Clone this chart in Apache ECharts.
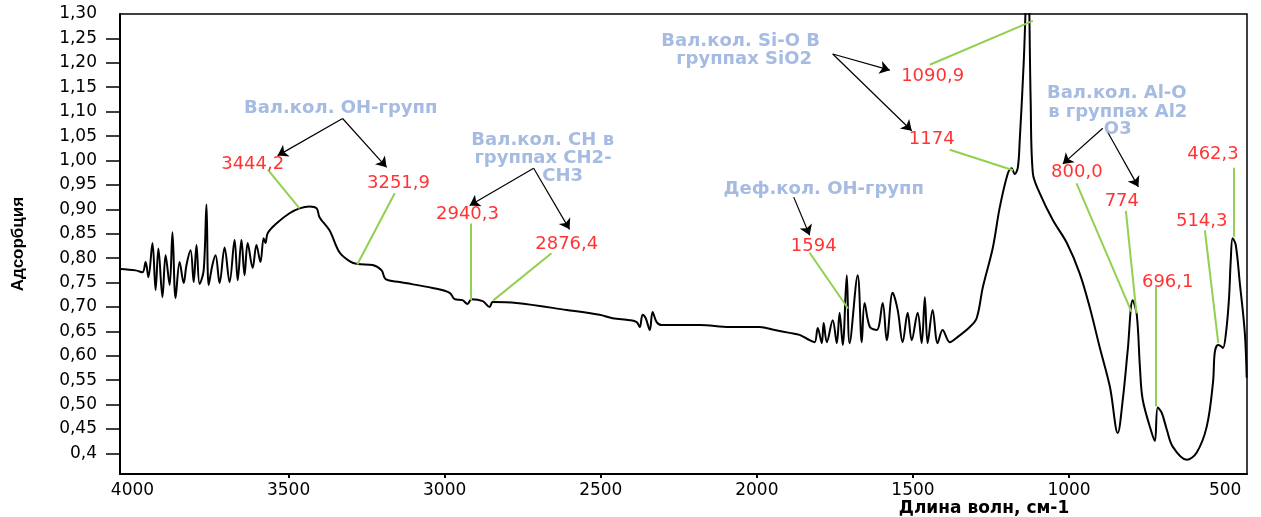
<!DOCTYPE html>
<html><head><meta charset="utf-8">
<script src="https://cdn.jsdelivr.net/npm/echarts@6/dist/echarts.min.js"></script>
<style>html,body{margin:0;padding:0;background:#fff}#c{width:1261px;height:517px}</style>
</head><body><div id="c"></div>
<script>
// ---- spectrum data (wavenumber, cm-1 / absorbance) ----
const wavenumbers = [4040,3990,3968,3958,3949,3936,3926,3917,3904,3894,3881,3872,3862,3849,3836,3827,3814,3804,3795,3785,3772,3763,3756,3744,3734,3721,3705,3689,3673,3663,3651,3641,3631,3615,3603,3590,3580,3574,3567,3539,3497,3465,3433,3410,3401,3369,3337,3305,3279,3231,3202,3189,3144,3039,2984,2968,2943,2927,2914,2878,2856,2846,2770,2609,2504,2462,2407,2385,2375,2366,2356,2343,2334,2321,2305,2183,2087,1991,1943,1895,1863,1831,1815,1805,1792,1786,1776,1757,1744,1735,1725,1712,1703,1677,1664,1655,1638,1616,1597,1584,1565,1549,1533,1517,1504,1485,1472,1462,1453,1437,1421,1405,1382,1360,1318,1296,1276,1244,1222,1196,1184,1174,1164,1158,1145,1132,1123,1116,1094,1052,1007,966,934,902,869,844,828,812,796,783,773,764,735,725,716,703,687,668,623,591,559,539,533,523,514,507,498,488,482,476,466,453,437,431];
const absorbance = [0.778,0.775,0.771,0.792,0.761,0.831,0.735,0.820,0.720,0.806,0.745,0.853,0.718,0.792,0.749,0.786,0.816,0.751,0.827,0.747,0.775,0.910,0.745,0.786,0.806,0.749,0.822,0.751,0.837,0.755,0.837,0.765,0.831,0.780,0.827,0.792,0.841,0.831,0.851,0.871,0.892,0.902,0.906,0.902,0.884,0.857,0.812,0.794,0.788,0.786,0.775,0.757,0.751,0.739,0.729,0.716,0.714,0.706,0.716,0.712,0.700,0.710,0.708,0.694,0.684,0.677,0.673,0.669,0.659,0.684,0.677,0.653,0.690,0.669,0.663,0.663,0.659,0.659,0.653,0.647,0.643,0.632,0.628,0.657,0.626,0.667,0.628,0.673,0.626,0.688,0.622,0.765,0.626,0.765,0.628,0.708,0.659,0.653,0.708,0.632,0.729,0.694,0.628,0.688,0.632,0.688,0.626,0.720,0.626,0.694,0.626,0.653,0.628,0.637,0.659,0.677,0.741,0.822,0.904,0.974,0.984,0.972,0.986,1.041,1.204,1.420,1.123,0.974,0.933,0.878,0.831,0.769,0.700,0.618,0.536,0.442,0.510,0.612,0.714,0.684,0.577,0.510,0.442,0.426,0.494,0.483,0.449,0.414,0.387,0.402,0.455,0.545,0.608,0.622,0.620,0.616,0.643,0.714,0.796,0.841,0.827,0.749,0.647,0.555];

// ---- axis ticks ----
const xLabelValues = [4000,3500,3000,2500,2000,1500,1000,500];
const xTickValues = [3500,3000,2500,2000,1500,1000];
const yLabelValues = [0.40,0.45,0.50,0.55,0.60,0.65,0.70,0.75,0.80,0.85,0.90,0.95,1.00,1.05,1.10,1.15,1.20,1.25,1.30];
const yTickValues = [0.40,0.45,0.50,0.55,0.60,0.65,0.70,0.75,0.80,0.85,0.90,0.95,1.00,1.05,1.10,1.15,1.20,1.25];
const xAxisName = 'Длина волн, см-1';
const yAxisName = 'Адсорбция';

// ---- annotations (anchored in data coordinates) ----
const groupTexts = ['Вал.кол. ОН-групп','Вал.кол. CH в','группах CH2-','CH3','Вал.кол. Si-O В','группах SiO2','Деф.кол. ОН-групп','Вал.кол. Al-O','в группах Al2','O3'];
const groupAt = [[3333,1.106],[2686,1.041],[2685,1.004],[2622,0.968],[2052,1.245],[2041,1.208],[1786,0.940],[847,1.138],[844,1.099],[844,1.063]];
const peakTexts = ['3444,2','3251,9','2940,3','2876,4','1090,9','1174','1594','800,0','774','696,1','514,3','462,3'];
const peakAt = [[3615,0.992],[3148,0.953],[2927,0.890],[2609,0.829],[1437,1.172],[1440,1.043],[1818,0.825],[975,0.976],[831,0.916],[684,0.751],[575,0.876],[539,1.012]];
const leaderLines = [
  [[3566,0.981],[3465,0.902]],
  [[3160,0.933],[3280,0.787]],
  [[2915,0.871],[2915,0.714]],
  [[2658,0.810],[2845,0.713]],
  [[1446,1.196],[1116,1.286]],
  [[1382,1.022],[1179,0.980]],
  [[1831,0.811],[1708,0.697]],
  [[976,0.953],[800,0.690]],
  [[818,0.897],[784,0.687]],
  [[722,0.741],[722,0.496]],
  [[565,0.857],[522,0.626]],
  [[471,0.985],[471,0.844]]
];
const arrowLines = [
  [[3327,1.086],[3535,1.010]],
  [[3327,1.086],[3186,0.986]],
  [[2715,0.984],[2920,0.908]],
  [[2715,0.984],[2600,0.859]],
  [[1757,1.218],[1574,1.185]],
  [[1757,1.218],[1504,1.061]],
  [[1882,0.925],[1831,0.847]],
  [[892,1.066],[1020,0.993]],
  [[876,1.058],[778,0.946]]
];

const FONT = 'DejaVu Sans';
const chart = echarts.init(document.getElementById('c'), null, {renderer:'canvas'});
chart.setOption({
  animation: false,
  backgroundColor: '#fff',
  grid: {left:120, right:14, top:14, bottom:43, show:true, borderColor:'#000', borderWidth:1.5, backgroundColor:'transparent'},
  xAxis: {
    type:'value', inverse:true, min:430, max:4040,
    axisLine:{show:true, onZero:false, lineStyle:{color:'#000', width:2}},
    axisTick:{show:true, length:4, customValues:xTickValues, lineStyle:{color:'#000', width:2}},
    axisLabel:{customValues:xLabelValues, margin:8, color:'#000', fontFamily:FONT, fontSize:17,
      formatter:(v)=>String(v)},
    splitLine:{show:false}
  },
  yAxis: {
    type:'value', min:0.358, max:1.30,
    name: yAxisName, nameLocation:'middle', nameGap:93, nameRotate:90,
    nameTextStyle:{color:'#000', fontFamily:'Liberation Sans', fontWeight:'bold', fontSize:17},
    axisLine:{show:true, onZero:false, lineStyle:{color:'#000', width:2}},
    axisTick:{show:true, length:14, customValues:yTickValues, lineStyle:{color:'#000', width:1.5}},
    axisLabel:{customValues:yLabelValues, margin:23, color:'#000', fontFamily:FONT, fontSize:17,
      formatter:(v)=> Math.abs(v-0.4)<1e-9 ? '0,4' : v.toFixed(2).replace('.', ',')},
    splitLine:{show:false}
  },
  graphic: [{
    type:'text', x:984, y:509, silent:true,
    style:{text:xAxisName, fill:'#000', font:'bold 17px "DejaVu Sans"', align:'center', verticalAlign:'middle'}
  }],
  series: [
    {
      type:'line', data: wavenumbers.map((w,i)=>[w, absorbance[i]]),
      showSymbol:false, smooth:0.35, clip:true, z:2,
      lineStyle:{color:'#000', width:2}, silent:true
    },
    {
      type:'lines', coordinateSystem:'cartesian2d', z:3, silent:true,
      data: leaderLines.map(c=>({coords:c})),
      lineStyle:{color:'#92d050', width:2, opacity:1}, symbol:['none','none']
    },
    {
      type:'lines', coordinateSystem:'cartesian2d', z:4, silent:true,
      data: arrowLines.map(c=>({coords:c})),
      lineStyle:{color:'#000', width:1.2, opacity:1}, symbol:['none','arrow'], symbolSize:10
    },
    {
      type:'scatter', z:5, silent:true, symbolSize:1, itemStyle:{color:'rgba(0,0,0,0)'},
      data: groupTexts.map((t,i)=>({name:t, value:groupAt[i]})),
      label:{show:true, position:'inside', formatter:'{b}', color:'#8eaadb', fontFamily:FONT, fontWeight:'bold', fontSize:18}
    },
    {
      type:'scatter', z:5, silent:true, symbolSize:1, itemStyle:{color:'rgba(0,0,0,0)'},
      data: peakTexts.map((t,i)=>({name:t, value:peakAt[i]})),
      label:{show:true, position:'inside', formatter:'{b}', color:'#ff0000', fontFamily:FONT, fontSize:18}
    }
  ]
});
</script>
</body></html>
